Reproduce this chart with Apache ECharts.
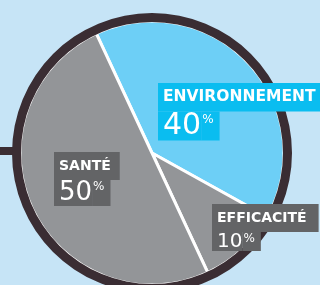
<!DOCTYPE html>
<html>
<head>
<meta charset="utf-8">
<script src="https://cdn.jsdelivr.net/npm/echarts@6/dist/echarts.min.js"></script>
<style>
html,body{margin:0;padding:0;background:#c6e4f6;}
#main{width:320px;height:285px;}
</style>
</head>
<body>
<div id="main"></div>
<script>
// data
var categories = ['ENVIRONNEMENT', 'EFFICACITÉ', 'SANTÉ'];
var values = [40, 10, 50];

// look
var sliceColors = ['#6dcff6', '#939598', '#939598'];
var boxColors = ['#0abdf0', '#636466', '#636466'];
var nameSizes = [15.5, 14, 14];
var nameRightPad = [12, 12, 9];
var numSizes = [30, 20, 26];
var numBoxH = [29, 19, 26];
var labelSpots = [[158, 83], [212, 204], [54, 152]];
var ringColor = '#3a2d33';
var fontFamily = '"DejaVu Sans", sans-serif';

var myChart = echarts.init(document.getElementById('main'), null, {renderer: 'canvas'});

var sliceData = [];
var labelData = [];
for (var i = 0; i < categories.length; i++) {
    sliceData.push({name: categories[i], value: values[i], itemStyle: {color: sliceColors[i]}});
    var bg = boxColors[i];
    var ns = nameSizes[i], vs = numSizes[i], ps = 12;
    var np = Math.round((28 - ns) / 2);
    var vp = numBoxH[i] - vs;
    var pTop = Math.max(0, Math.round(vs * 0.05));
    var pBot = Math.max(0, numBoxH[i] - ps - pTop);
    labelData.push({
        name: categories[i],
        value: values[i],
        label: {
            rich: {
                n: {fontFamily: fontFamily, fontSize: ns, fontWeight: 'bold', color: '#fff',
                    backgroundColor: bg, padding: [np, nameRightPad[i], 28 - ns - np, 5]},
                v: {fontFamily: fontFamily, fontSize: vs, color: '#fff',
                    backgroundColor: bg, padding: [Math.round(vp / 2), 0, vp - Math.round(vp / 2), 5]},
                p: {fontFamily: fontFamily, fontSize: ps, color: '#fff',
                    backgroundColor: bg, padding: [pTop, 6, pBot, 1]}
            }
        }
    });
}

var option = {
    backgroundColor: '#c6e4f6',
    animation: false,
    graphic: [{
        type: 'rect', left: 0, top: 147, z: 0,
        shape: {width: 20, height: 8},
        style: {fill: ringColor}
    }],
    series: [
        {
            type: 'pie',
            center: [152, 153],
            radius: [0, 132],
            startAngle: 115,
            clockwise: true,
            silent: true,
            label: {show: false},
            labelLine: {show: false},
            itemStyle: {borderColor: '#fff', borderWidth: 3},
            data: sliceData
        },
        {
            type: 'pie',
            center: [152, 153],
            radius: [131, 140],
            silent: true,
            label: {show: false},
            labelLine: {show: false},
            itemStyle: {color: ringColor},
            data: [{value: 1}]
        },
        {
            type: 'pie',
            center: [152, 153],
            radius: [0, 132],
            startAngle: 115,
            silent: true,
            itemStyle: {color: 'rgba(0,0,0,0)'},
            labelLine: {show: false},
            label: {
                show: true,
                position: 'inside',
                formatter: function (p) {
                    return '{n|' + p.name + '}\n{v|' + p.value + '}{p|%}';
                }
            },
            labelLayout: function (params) {
                var s = labelSpots[params.dataIndex];
                return {x: s[0], y: s[1], align: 'left', verticalAlign: 'top'};
            },
            data: labelData
        }
    ]
};
myChart.setOption(option);
</script>
</body>
</html>
